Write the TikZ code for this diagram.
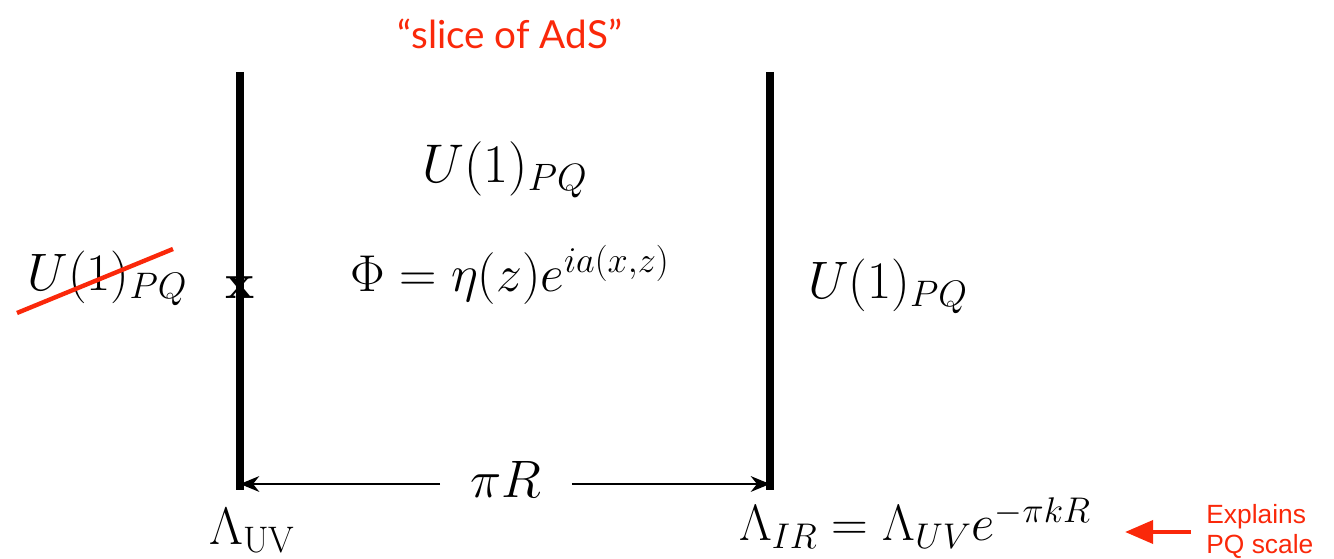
\RequirePackage{fix-cm}
\documentclass[tikz,border=0pt]{standalone}
\usepackage{fontspec}
\newfontfamily\gillfont{Lato}
\newfontfamily\helvfont{Liberation Sans}
\usetikzlibrary{arrows.meta,positioning}
\definecolor{ptred}{RGB}{250,40,10}
\tikzset{
    brane/.style={line width=4pt},
    big/.style={font=\fontsize{30}{35}\selectfont},
    redlabel/.style={text=ptred}
}
\begin{document}
\begin{tikzpicture}
        \useasboundingbox (0,0) rectangle (26.68,11.18);
        % the two branes
        \draw[brane] (4.8,9.74) -- (4.8,1.38);
        \draw[brane] (15.4,9.74) -- (15.4,1.38);
        \coordinate (uvfoot) at (4.8,1.5);
        \coordinate (irfoot) at (15.4,1.5);
        \node[redlabel,font=\gillfont\fontsize{22}{26}\selectfont] (title) at (10.2,10.5) {“slice of AdS”};
        \node[big,font=\fontsize{31}{36}\selectfont] (bulkU) at (10.1,7.78) {$U(1)_{PQ}$};
        \node[big,font=\fontsize{29.5}{35}\selectfont] (phi) at (10.2,5.68) {$\Phi = \eta(z) e^{ia(x,z)}$};
        \node[big] (leftU) at (2.15,5.62) {$U(1)_{PQ}$};
        \node[big] (rightU) at (17.76,5.45) {$U(1)_{PQ}$};
        \node[font=\bfseries\fontsize{28}{32}\selectfont] (cross) at (4.8,5.42) {x};
        \draw[ptred,line width=2.5pt] (0.34,4.92) -- (3.46,6.2);
        % distance between the branes
        \node[big,inner xsep=0.6cm] (piR) at (10.12,1.6) {$\pi R$};
        \draw[-{Stealth[length=11pt,width=9pt]},thick] (piR.west|-uvfoot) -- (uvfoot);
        \draw[-{Stealth[length=11pt,width=9pt]},thick] (piR.east|-irfoot) -- (irfoot);
        \node[big] (luv) at (5.05,0.56) {$\Lambda_{\rm UV}$};
        \node[big,font=\fontsize{29}{34}\selectfont] (lir) at (18.3,0.72) {$\Lambda_{IR} = \Lambda_{UV} e^{-\pi k R}$};
        \node[redlabel,font=\helvfont\fontsize{15}{17}\selectfont,align=left,anchor=north west,inner sep=0pt] (note) at (24.12,1.1) {Explains\\PQ scale};
        \coordinate (notetip) at (22.5,0.54);
        \draw[ptred,line width=2.5pt,-{Triangle[length=16pt,width=13pt]}] (note.west|-notetip) ++(-0.3,0) -- (notetip);
    \end{tikzpicture}
\end{document}
